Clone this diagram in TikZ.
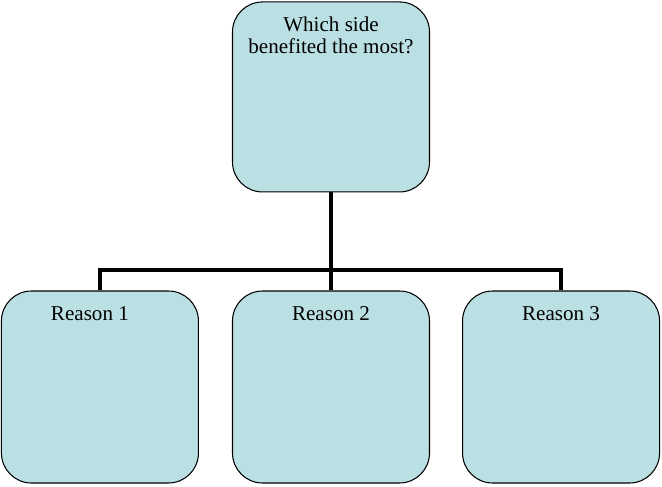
\documentclass[tikz,border=0pt]{standalone}
\usepackage{fontspec}
\setmainfont{Liberation Serif}
\usetikzlibrary{positioning, calc}
\definecolor{boxfill}{HTML}{BBE0E3}
\tikzset{
  card/.style={draw, rounded corners=0.6cm, fill=boxfill, line width=0.6pt,
    minimum width=3.94cm, minimum height=3.84cm},
  head/.style={label={[anchor=north, inner sep=0pt, yshift=-0.31cm, align=center,
    font=\fontsize{12}{12.5}\selectfont]north:#1}},
  conn/.style={line width=2.1pt},
}
\begin{document}
\begin{tikzpicture}[node distance=0.65cm]
    \useasboundingbox (0,0) rectangle (13.24,-9.72);
    \node[card, head={Reason 2}] (r2) at (6.62,-7.74) {};
    \node[card, left=0.66cm of r2, label={[anchor=north, inner sep=0pt, yshift=-0.31cm, xshift=-0.2cm,
      font=\fontsize{12}{12.5}\selectfont]north:Reason 1}] (r1) {};
    \node[card, head={Reason 3}, right=0.64cm of r2] (r3) {};
    \node[card, minimum height=3.8cm, head={Which side\\benefited the most?}, above=1.96cm of r2] (q) {};
    \coordinate (bar) at (6.62,-5.4);
    \draw[conn] (q.south) -- (r2.north);
    \draw[conn] (r1.north) |- (bar) -| (r3.north);
  \end{tikzpicture}
\end{document}
